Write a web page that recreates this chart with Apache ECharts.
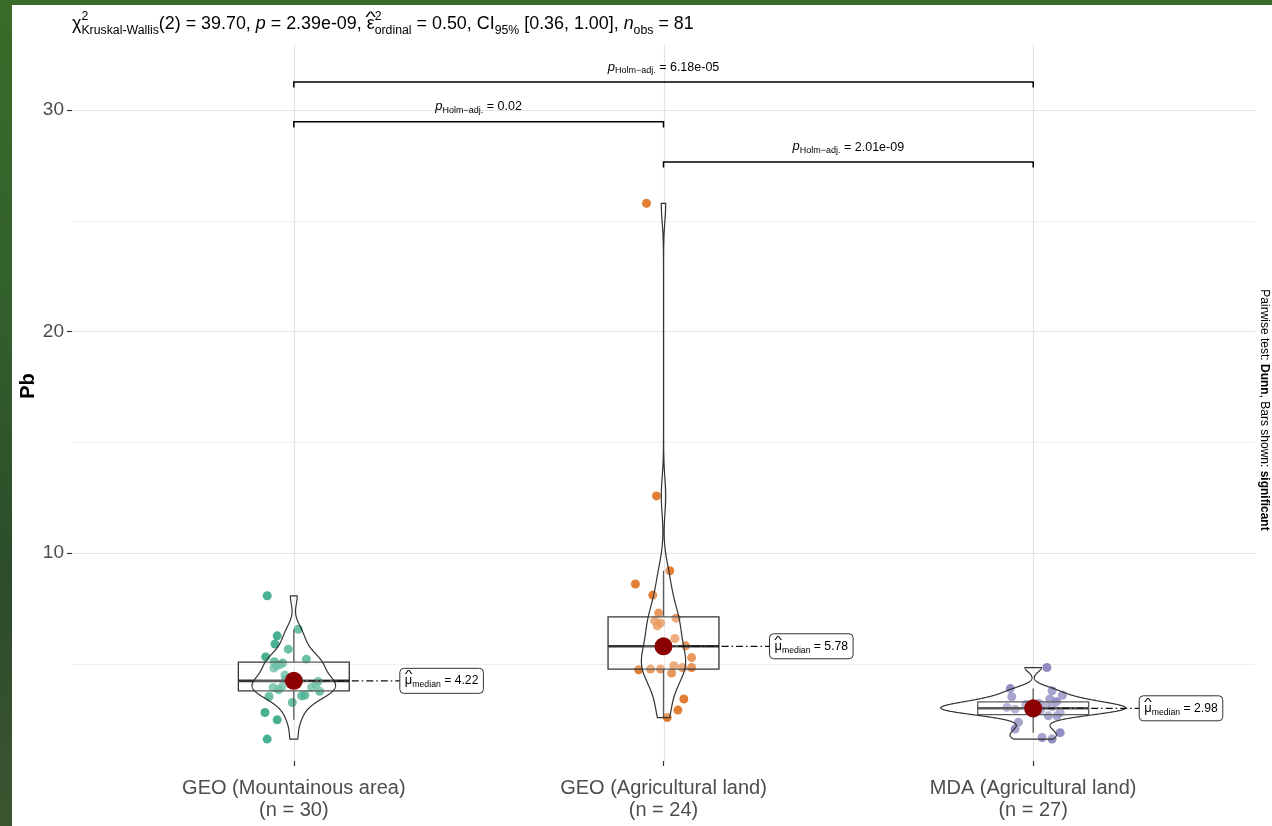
<!DOCTYPE html>
<html><head><meta charset="utf-8">
<script src="https://cdn.jsdelivr.net/npm/echarts@6/dist/echarts.min.js"></script>
<style>
html,body{margin:0;padding:0;width:1272px;height:826px;overflow:hidden;
background:linear-gradient(180deg,#3a6b28 0%,#33612c 35%,#2c4c2a 70%,#3c5531 100%);}
#bg{position:absolute;left:12px;top:5px;width:1260px;height:821px;background:#fff;}
#chart{position:absolute;left:0;top:0;width:1272px;height:826px;}
</style></head><body><div id="bg"></div><div id="chart"></div>
<script>
// ---------------- data ----------------
const categories = ['GEO (Mountainous area)', 'GEO (Agricultural land)', 'MDA (Agricultural land)'];
const pbGeoMountain = [1.59,2.46,2.79,3.24,3.51,3.54,3.57,3.75,3.83,3.92,3.92,3.95,4.05,4.15,4.20,4.24,4.30,4.48,4.80,4.90,4.95,5.02,5.08,5.20,5.30,5.65,5.88,6.25,6.55,8.06];
const jitGeoMountain = [-0.072,-0.045,-0.078,-0.004,-0.067,0.021,0.030,0.070,-0.041,-0.056,0.048,-0.032,0.060,-0.008,0.066,0.014,-0.022,-0.024,-0.054,-0.047,-0.038,-0.030,-0.053,0.034,-0.076,-0.015,-0.051,-0.045,0.012,-0.072];
const pbGeoAgri = [2.56,2.90,3.40,4.57,4.72,4.75,4.75,4.82,4.82,4.90,5.27,5.76,5.80,6.13,6.70,6.83,6.93,7.05,7.28,8.09,8.59,9.19,12.57,25.78];
const jitGeoAgri = [0.010,0.039,0.055,0.022,-0.067,-0.035,-0.008,0.051,0.076,0.028,0.076,0.005,0.060,0.031,-0.017,-0.008,-0.024,0.034,-0.013,-0.029,-0.076,0.017,-0.019,-0.046];
const pbMdaAgri = [1.59,1.66,1.88,2.04,2.35,2.64,2.64,2.74,2.79,2.85,2.90,2.94,2.96,2.98,3.02,3.05,3.10,3.15,3.20,3.25,3.29,3.40,3.50,3.57,3.77,3.87,4.82];
const jitMdaAgri = [0.051,0.024,0.073,-0.049,-0.040,0.041,0.064,0.000,0.073,-0.010,0.020,-0.049,0.005,-0.012,-0.071,0.051,0.035,-0.020,0.015,0.060,0.064,0.045,-0.058,0.079,0.051,-0.062,0.037];
const yLabelTicks = [10, 20, 30];
const yMinorTicks = [5, 15, 25];
const bracketPairs = [[1, 3], [1, 2], [2, 3]];
const bracketY = [31.26, 29.46, 27.65];
const bracketP = ['6.18e-05', '0.02', '2.01e-09'];

// ---------------- helpers ----------------
const groups = [pbGeoMountain, pbGeoAgri, pbMdaAgri];
const jitters = [jitGeoMountain, jitGeoAgri, jitMdaAgri];
const colors = ['#1B9E77', '#D95F02', '#7570B3'];
const FAM = '"Liberation Sans", Arial, Helvetica, sans-serif';
function fontStr(s, it, b) { return (it ? 'italic ' : 'normal ') + (b ? 'bold ' : 'normal ') + s + 'px ' + FAM; }
const mctx = document.createElement('canvas').getContext('2d');
function tw(t, s, it, b) { mctx.font = fontStr(s, it, b); return mctx.measureText(t).width; }
function piecesWidth(pieces) {
  let w = 0;
  for (const p of pieces) {
    if (p.stack) w += Math.max(...p.stack.map(q => tw(q.t, q.s, q.i, q.b)));
    else w += tw(p.t, p.s, p.i, p.b);
  }
  return w;
}
function layoutPieces(pieces, x0, base, fill) {
  const els = []; let x = x0;
  const mk = (q, xx) => ({
    type: 'text', x: xx, y: base + (q.dy || 0) - 0.35 * q.s, z2: 10,
    style: { text: q.t, font: fontStr(q.s, q.i, q.b), fill: fill,
      align: 'left', verticalAlign: 'middle', textAlign: 'left', textVerticalAlign: 'middle' }
  });
  for (const p of pieces) {
    if (p.stack) {
      let w = 0;
      for (const q of p.stack) { els.push(mk(q, x)); w = Math.max(w, tw(q.t, q.s, q.i, q.b)); }
      x += w;
    } else {
      els.push(mk(p, x));
      const w = tw(p.t, p.s, p.i, p.b);
      if (p.hat) {
        els.push({
          type: 'text', x: x + w / 2, y: base - p.hat * p.s - 0.35 * p.s, scaleX: 1.5, z2: 10,
          style: { text: '^', font: fontStr(p.s * 0.85, false, false), fill: fill,
            align: 'center', verticalAlign: 'middle', textAlign: 'center', textVerticalAlign: 'middle' }
        });
      }
      x += w;
    }
  }
  return els;
}
function quantile(s, p) {
  const h = (s.length - 1) * p, lo = Math.floor(h), hi = Math.min(lo + 1, s.length - 1);
  return s[lo] + (h - lo) * (s[hi] - s[lo]);
}
function stats(vals) {
  const s = [...vals].sort((a, b) => a - b);
  const q1 = quantile(s, 0.25), med = quantile(s, 0.5), q3 = quantile(s, 0.75), iqr = q3 - q1;
  const lo = s.find(v => v >= q1 - 1.5 * iqr);
  const hi = [...s].reverse().find(v => v <= q3 + 1.5 * iqr);
  const mean = s.reduce((a, b) => a + b, 0) / s.length;
  const sd = Math.sqrt(s.reduce((a, b) => a + (b - mean) * (b - mean), 0) / (s.length - 1));
  const bw = 0.9 * Math.min(sd, iqr / 1.34) * Math.pow(s.length, -0.2);
  return { s, q1, med, q3, lo, hi, bw, min: s[0], max: s[s.length - 1] };
}
const st = groups.map(stats);
const NG = 512;
const dens = st.map(o => {
  const out = [];
  for (let k = 0; k < NG; k++) {
    const t = o.min + (o.max - o.min) * k / (NG - 1);
    let f = 0;
    for (const v of o.s) { const z = (t - v) / o.bw; f += Math.exp(-0.5 * z * z); }
    out.push([t, f / (o.s.length * o.bw * Math.sqrt(2 * Math.PI))]);
  }
  return out;
});
const maxDens = Math.max(...dens.map(d => Math.max(...d.map(p => p[1]))));
const centerData = categories.map((c, i) => [i + 1, st[i].med]);

// ---------------- series ----------------
const series = [];
// gridlines
series.push({
  type: 'custom', z: 0, silent: true, clip: false, data: [[1, 10]],
  renderItem(params, api) {
    const cs = params.coordSys, ch = [];
    for (const v of yMinorTicks) { const y = Math.round(api.coord([1, v])[1]) + 0.5;
      ch.push({ type: 'line', shape: { x1: cs.x, y1: y, x2: cs.x + cs.width, y2: y }, style: { stroke: '#EBEBEB', lineWidth: 0.8 } }); }
    for (const v of yLabelTicks) { const y = Math.round(api.coord([1, v])[1]) + 0.5;
      ch.push({ type: 'line', shape: { x1: cs.x, y1: y, x2: cs.x + cs.width, y2: y }, style: { stroke: '#E3E3E3', lineWidth: 1.2 } }); }
    categories.forEach((c, i) => { const x = Math.round(api.coord([i + 1, 10])[0]) + 0.5;
      ch.push({ type: 'line', shape: { x1: x, y1: cs.y, x2: x, y2: cs.y + cs.height }, style: { stroke: '#E3E3E3', lineWidth: 1.2 } }); });
    return { type: 'group', children: ch };
  }
});
// jittered points
groups.forEach((vals, g) => {
  series.push({
    type: 'scatter', z: 2, silent: true, symbolSize: 9,
    itemStyle: { color: colors[g], opacity: 0.8 },
    data: vals.map((v, i) => [g + 1 + jitters[g][i], v])
  });
});
// boxplots
series.push({
  type: 'custom', z: 3, silent: true, data: centerData,
  renderItem(params, api) {
    const g = params.dataIndex, o = st[g], cx = g + 1;
    const a = api.coord([cx - 0.15, o.q3]), b = api.coord([cx + 0.15, o.q1]);
    const m1 = api.coord([cx - 0.15, o.med]), m2 = api.coord([cx + 0.15, o.med]);
    const wt = api.coord([cx, o.hi]), wq3 = api.coord([cx, o.q3]), wq1 = api.coord([cx, o.q1]), wb = api.coord([cx, o.lo]);
    return { type: 'group', children: [
      { type: 'line', shape: { x1: wt[0], y1: wt[1], x2: wq3[0], y2: wq3[1] }, style: { stroke: '#333', lineWidth: 1.3 } },
      { type: 'line', shape: { x1: wq1[0], y1: wq1[1], x2: wb[0], y2: wb[1] }, style: { stroke: '#333', lineWidth: 1.3 } },
      { type: 'rect', shape: { x: a[0], y: a[1], width: b[0] - a[0], height: b[1] - a[1] }, style: { fill: 'rgba(255,255,255,0.2)', stroke: '#333', lineWidth: 1.3 } },
      { type: 'line', shape: { x1: m1[0], y1: m1[1], x2: m2[0], y2: m2[1] }, style: { stroke: '#333', lineWidth: 2.6 } }
    ] };
  }
});
// violins
series.push({
  type: 'custom', z: 4, silent: true, data: centerData,
  renderItem(params, api) {
    const g = params.dataIndex, d = dens[g], cx = g + 1, pts = [];
    for (const [t, f] of d) pts.push(api.coord([cx + 0.25 * f / maxDens, t]));
    for (let k = d.length - 1; k >= 0; k--) pts.push(api.coord([cx - 0.25 * d[k][1] / maxDens, d[k][0]]));
    return { type: 'polygon', shape: { points: pts }, style: { fill: 'rgba(255,255,255,0.2)', stroke: '#333', lineWidth: 1.2 } };
  }
});
// median points + labels
series.push({
  type: 'custom', z: 6, silent: true, data: centerData,
  renderItem(params, api) {
    const g = params.dataIndex, o = st[g];
    const c = api.coord([g + 1, o.med]);
    const pieces = [{ t: 'μ', s: 13, hat: 0.42 }, { t: 'median', s: 8.7, dy: 2.5 }, { t: ' = ' + o.med.toFixed(2), s: 12.2 }];
    const w = piecesWidth(pieces) + 10, h = 25, lx = c[0] + 106;
    const ch = [
      { type: 'line', shape: { x1: c[0], y1: c[1], x2: lx, y2: c[1] }, style: { stroke: '#111', lineWidth: 1.3, lineDash: [7, 3, 1.5, 3] } },
      { type: 'circle', shape: { cx: c[0], cy: c[1], r: 9 }, style: { fill: '#8B0000' } },
      { type: 'rect', shape: { x: lx, y: c[1] - h / 2, width: w, height: h, r: 4 }, style: { fill: '#fff', stroke: '#333', lineWidth: 1 } }
    ];
    return { type: 'group', children: ch.concat(layoutPieces(pieces, lx + 5, c[1] + 4.5, '#000')) };
  }
});
// significance brackets
series.push({
  type: 'custom', z: 6, silent: true, clip: false, data: bracketY.map((y, i) => [bracketPairs[i][0], y]),
  renderItem(params, api) {
    const i = params.dataIndex, pr = bracketPairs[i], y = bracketY[i];
    const p1 = api.coord([pr[0], y]), p2 = api.coord([pr[1], y]);
    const t1 = api.coord([pr[0], y - 0.25]), t2 = api.coord([pr[1], y - 0.25]);
    const pieces = [{ t: 'p', s: 13, i: 1 }, { t: 'Holm−adj.', s: 9, dy: 2.5 }, { t: ' = ' + bracketP[i], s: 12.5 }];
    const w = piecesWidth(pieces), mx = (p1[0] + p2[0]) / 2;
    return { type: 'group', children: [
      { type: 'polyline', shape: { points: [[t1[0], t1[1]], [p1[0], p1[1]], [p2[0], p2[1]], [t2[0], t2[1]]] }, style: { stroke: '#000', lineWidth: 1.5, fill: null } }
    ].concat(layoutPieces(pieces, mx - w / 2, p1[1] - 10.5, '#000')) };
  }
});

// ---------------- title & side texts ----------------
const M = 17.9, S = 12.3;
const titlePieces = [
  { t: 'χ', s: M },
  { stack: [{ t: '2', s: S, dy: -10 }, { t: 'Kruskal-Wallis', s: S, dy: 4 }] },
  { t: '(2) = 39.70, ', s: M },
  { t: 'p', s: M, i: 1 },
  { t: ' = 2.39e-09, ', s: M },
  { t: 'ε', s: M, hat: 0.36 },
  { stack: [{ t: '2', s: S, dy: -10 }, { t: 'ordinal', s: S, dy: 4 }] },
  { t: ' = 0.50, CI', s: M },
  { t: '95%', s: S, dy: 4 },
  { t: ' [0.36, 1.00], ', s: M },
  { t: 'n', s: M, i: 1 },
  { t: 'obs', s: S, dy: 4 },
  { t: ' = 81', s: M }
];
const graphics = layoutPieces(titlePieces, 72, 30.5, '#000');
graphics.push({
  type: 'text', x: 28, y: 386, rotation: Math.PI / 2,
  style: { text: 'Pb', font: fontStr(20, false, true), fill: '#000', align: 'center', verticalAlign: 'middle', textAlign: 'center', textVerticalAlign: 'middle' }
});
graphics.push({
  type: 'text', x: 1264, y: 410, rotation: -Math.PI / 2,
  style: {
    text: '{n|Pairwise test: }{b|Dunn}{n|, Bars shown: }{b|significant}',
    align: 'center', verticalAlign: 'middle', textAlign: 'center', textVerticalAlign: 'middle',
    rich: {
      n: { fontSize: 12, fontFamily: FAM, fill: '#000', color: '#000' },
      b: { fontSize: 12, fontFamily: FAM, fontWeight: 'bold', fill: '#000', color: '#000' }
    }
  }
});

const chart = echarts.init(document.getElementById('chart'), null, { renderer: 'canvas' });
chart.setOption({
  backgroundColor: 'transparent',
  animation: false,
  grid: [
    { left: 72, right: 17, top: 45, bottom: 65 },
    { left: 109, right: 54, top: 45, bottom: 65 }
  ],
  xAxis: [
    { type: 'value', gridIndex: 0, min: 0.4, max: 3.6, show: false },
    {
      type: 'category', gridIndex: 1, data: categories.map((c, i) => c + '\n(n = ' + groups[i].length + ')'),
      boundaryGap: true,
      axisLine: { show: false },
      axisTick: { show: true, alignWithLabel: true, length: 5, lineStyle: { color: '#333', width: 1.2 } },
      axisLabel: { fontSize: 20, fontFamily: FAM, color: '#4D4D4D', lineHeight: 22, margin: 16, interval: 0 },
      splitLine: { show: false }
    }
  ],
  yAxis: [
    {
      type: 'value', gridIndex: 0, min: 0.6, max: 32.93,
      axisLine: { show: false },
      splitLine: { show: false },
      axisTick: { show: true, customValues: yLabelTicks, length: 5, lineStyle: { color: '#333', width: 1.2 } },
      axisLabel: { customValues: yLabelTicks, fontSize: 19, fontFamily: FAM, color: '#4D4D4D', margin: 8 }
    },
    { type: 'value', gridIndex: 1, show: false, min: 0, max: 1 }
  ],
  series: series,
  graphic: { elements: graphics }
});
</script></body></html>
